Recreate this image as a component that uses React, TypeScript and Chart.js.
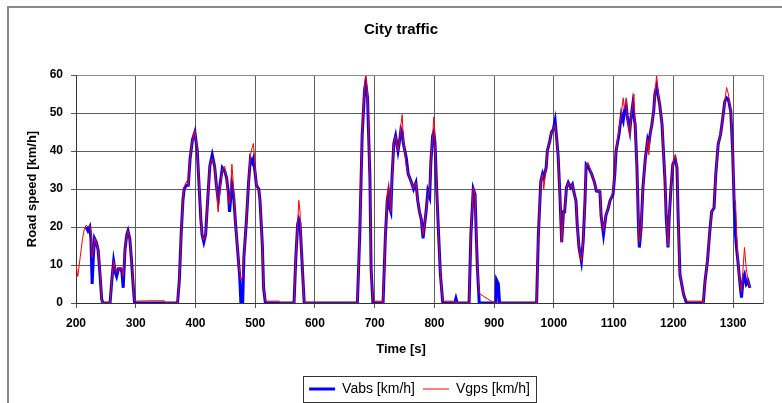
import { useEffect, useRef } from 'react';
import { Chart, registerables } from 'chart.js';

Chart.register(...registerables);

// Time axis [s]
const timeSec = [
  200, 203, 207, 211, 214, 217, 220, 223, 225, 227, 229, 231, 234, 237, 240, 243, 245, 257, 260, 263,
  266, 268, 271, 275, 277, 279, 282, 285, 287, 290, 293, 296, 298, 330, 348, 350, 370, 373, 376, 379,
  381, 385, 388, 391, 395, 399, 403, 406, 409, 411, 414, 417, 420, 424, 428, 432, 435, 438, 441, 445,
  449, 452, 455, 457, 461, 464, 467, 471, 474, 476, 479, 481, 485, 489, 492, 495, 497, 500, 502, 506,
  508, 512, 514, 517, 540, 542, 565, 568, 571, 573, 575, 577, 580, 582, 671, 675, 679, 683, 685, 688,
  692, 694, 697, 711, 714, 718, 721, 723, 725, 727, 729, 732, 735, 739, 742, 744, 746, 748, 753, 756,
  761, 765, 769, 772, 775, 778, 781, 783, 786, 789, 792, 794, 797, 799, 801, 804, 807, 810, 814, 830,
  834, 836, 838, 858, 861, 865, 868, 870, 872, 875, 895, 903, 904, 907, 909, 971, 974, 978, 981, 983,
  987, 989, 993, 996, 999, 1002, 1004, 1007, 1010, 1013, 1016, 1018, 1021, 1024, 1028, 1031, 1033, 1037, 1039, 1042,
  1046, 1049, 1052, 1054, 1057, 1063, 1068, 1071, 1077, 1079, 1083, 1087, 1091, 1094, 1099, 1102, 1104, 1109, 1113, 1116,
  1118, 1121, 1123, 1127, 1129, 1132, 1134, 1136, 1139, 1142, 1143, 1146, 1149, 1153, 1157, 1159, 1161, 1164, 1167, 1169,
  1172, 1174, 1177, 1181, 1183, 1186, 1188, 1191, 1193, 1196, 1199, 1203, 1206, 1208, 1211, 1217, 1222, 1248, 1250, 1253,
  1257, 1261, 1264, 1268, 1271, 1275, 1279, 1282, 1286, 1289, 1292, 1296, 1299, 1302, 1304, 1306, 1308, 1311, 1314, 1317,
  1319, 1322, 1325, 1328,
];

// Vabs [km/h]
const vAbs = [
  null, null, null, null, null, 20, 19, 20, 17, 5, 12, 17, 16, 14, 8, 1, 0, 0, 6, 11,
  8, 7, 9, 9, 8, 4, 14, 18, 19, 17, 11, 4, 0, 0, 0, 0, 0, 6, 18, 27,
  30, 31, 31, 38, 43, 45, 40, 31, 22, 18, 16, 18, 26, 36, 39, 36, 31, 27, 31, 35.6,
  34.7, 33, 29, 24, 31, 28, 21, 13, 7, 0, 0, 12, 21, 32, 38, 37, 38, 34, 31, 30,
  27, 15, 4, 0, 0, 0, 0, 12, 20.7, 22, 21, 15, 6, 0, 0, 18, 44, 56, 58, 54,
  33, 9, 0, 0, 0, 18, 27, 29, 25, 24, 33, 42, 44, 40, 43, 45.7, 45, 42, 38, 34,
  32, 30, 31.7, 27, 24, 22, 17, 20, 24, 29.5, 28, 37, 44, 45, 42, 29, 18, 7.5, 0, 0,
  0, 1.2, 0, 0, 18, 30, 28.6, 18, 9, 0, 0, 0, 6, 5, 0, 0, 18, 32, 34, 33,
  35.6, 40, 42.6, 45, 45.7, 48, 44.4, 39, 28.6, 16, 24, 24, 30.4, 31.7, 30.4, 31.2, 29.5, 26.8, 20.7, 14.6,
  11, 16.3, 26.8, 36.5, 36, 34, 31.7, 29.5, 29.3, 23, 18, 23, 25, 27, 28.6, 34, 40, 44.4, 49.6, 48,
  50.5, 52, 48.8, 45.3, 48.8, 52.3, 49, 47, 35.6, 18, 14.6, 19.8, 30.4, 38, 43, 42, 44.4, 47, 50.5, 55,
  57, 55, 52.3, 47, 40.9, 32, 22.5, 14.6, 22.5, 30.4, 36.5, 38, 35.6, 22.5, 7.5, 2.3, 0, 0, 0, 5.8,
  11, 19, 24, 25, 34, 41.8, 44.4, 47.9, 53, 54, 53.6, 50.5, 40.9, 25, 18, 14, 11, 5.8, 1.4, 6.7,
  7.5, 5, 5.8, 4,
];

// Vgps [km/h]
const vGps = [
  10, 7, 12, 17, 19.5, 20.5, 20, 20.5, 19, 12, 14, 17, 16, 14, 9, 1, 0, 0, 6, 11,
  9, 8, 9, 9, 9, 7, 14, 18, 19, 17, 11, 4, 0.5, 0.6, 0.6, 0, 0, 6, 18, 27,
  30.5, 32, 31, 38, 43, 45.5, 40, 32, 22, 18, 16.5, 18, 26, 36, 38, 36.5, 31, 24, 30, 35,
  36, 33, 27, 26, 36.5, 30, 21, 13, 8, 6, 7, 12, 21, 32, 39, 41, 42, 35, 31, 30,
  27, 15, 4, 0.5, 0.5, 0, 0, 12, 21, 27, 24, 15, 6, 0, 0, 18, 44, 57.5, 60, 55,
  33, 9, 0.5, 0.5, 0, 18, 28, 31, 27, 24, 33, 42, 44, 40, 43, 47, 49.6, 43, 36, 34,
  32, 30, 31.7, 27, 24, 22, 18, 20, 24, 28, 30, 37, 44, 49, 42, 29, 18, 7.5, 0.5, 0.5,
  0, 0.5, 0, 0, 18, 30.4, 28.6, 18, 9, 2.5, 0.5, 0, 0, 0, 0, 0, 18, 32, 34, 30,
  35.6, 40, 42.6, 45, 45.7, 47, 44.4, 39, 28.6, 16, 24, 24, 30.4, 31.7, 30.4, 31.2, 29.5, 26.8, 20.7, 14.6,
  11, 16.3, 26.8, 36.5, 37, 34, 31.7, 29.5, 29.3, 23, 19, 23, 25, 27, 29.5, 34, 40, 46, 50, 54,
  51, 54, 48.8, 44, 48.8, 52.3, 55, 47, 35.6, 18, 16, 19.8, 30.4, 38, 43, 39, 44.4, 47, 50.5, 55,
  60, 56, 52.3, 47, 40.9, 32, 22.5, 15, 22.5, 30.4, 36.5, 39, 35.6, 22.5, 7.5, 2.3, 0.5, 0.5, 0, 5.8,
  11, 19, 24, 25, 34, 41.8, 44.4, 47.9, 53, 56.7, 55, 50.5, 40.9, 27, 27, 18, 11, 5.8, 3, 10,
  14.6, 9, 6, 4,
];

const seriesNames = ['Vabs [km/h]', 'Vgps [km/h]'];
const chartTitle = 'City traffic';
const xAxisTitle = 'Time [s]';
const yAxisTitle = 'Road speed [km/h]';
const xMin = 200;
const xMax = 1350;
const xStep = 100;
const yMin = 0;
const yMax = 60;
const yStep = 10;

const FONT = "'Liberation Sans', Arial, sans-serif";

const decorPlugin = {
  id: 'decor',
  beforeDraw(chart: any) {
    const { ctx, width, height } = chart;
    ctx.save();
    ctx.fillStyle = '#ffffff';
    ctx.fillRect(0, 0, width, height);
    ctx.restore();
  },
  afterDraw(chart: any) {
    const { ctx, chartArea, width, height } = chart;
    ctx.save();
    // outer frame (left and top visible)
    ctx.strokeStyle = '#8a8a8a';
    ctx.lineWidth = 2;
    ctx.beginPath();
    ctx.moveTo(8, height + 5);
    ctx.lineTo(8, 7);
    ctx.lineTo(width + 5, 7);
    ctx.stroke();
    // plot area border (top/right)
    ctx.strokeStyle = '#8c8c8c';
    ctx.lineWidth = 1;
    ctx.beginPath();
    ctx.moveTo(Math.round(chartArea.left) + 0.5, Math.round(chartArea.top) + 0.5);
    ctx.lineTo(Math.round(chartArea.right) + 0.5, Math.round(chartArea.top) + 0.5);
    ctx.lineTo(Math.round(chartArea.right) + 0.5, Math.round(chartArea.bottom) + 0.5);
    ctx.stroke();
    // chart title
    ctx.fillStyle = '#000';
    ctx.textAlign = 'center';
    ctx.textBaseline = 'middle';
    ctx.font = `bold 15px ${FONT}`;
    ctx.fillText(chartTitle, 401, 30);
    // x axis title
    ctx.font = `bold 13px ${FONT}`;
    ctx.fillText(xAxisTitle, 401, 349);
    // legend frame
    const lg = chart.legend;
    if (lg && lg.legendHitBoxes && lg.legendHitBoxes.length) {
      const boxes = lg.legendHitBoxes;
      let l = Infinity, r = -Infinity, t = Infinity, b = -Infinity;
      boxes.forEach((h: any) => {
        l = Math.min(l, h.left);
        r = Math.max(r, h.left + h.width);
        t = Math.min(t, h.top);
        b = Math.max(b, h.top + h.height);
      });
      ctx.strokeStyle = '#333';
      ctx.lineWidth = 1;
      ctx.strokeRect(Math.round(l - 6) + 0.5, Math.round(t - 6) + 0.5, Math.round(r - l + 12), Math.round(b - t + 12));
    }
    ctx.restore();
  },
};

export default function App() {
  const ref = useRef<HTMLCanvasElement | null>(null);

  useEffect(() => {
    document.body.style.margin = '0';
    const canvas = ref.current;
    if (!canvas) return;
    const chart = new Chart(canvas, {
      type: 'line',
      data: {
        datasets: [
          {
            label: seriesNames[0],
            data: timeSec.map((t, i) => ({ x: t, y: vAbs[i] })) as any,
            borderColor: '#0000ff',
            backgroundColor: '#0000ff',
            borderWidth: 3,
            pointRadius: 0,
            tension: 0,
            order: 1,
          },
          {
            label: seriesNames[1],
            data: timeSec.map((t, i) => ({ x: t, y: vGps[i] })) as any,
            borderColor: '#ff0000',
            backgroundColor: '#ff0000',
            borderWidth: 1,
            pointRadius: 0,
            tension: 0,
            order: 0,
          },
        ],
      },
      options: {
        responsive: false,
        animation: false,
        events: [],
        layout: { padding: { left: 20, right: 19, top: 75, bottom: -3 } },
        plugins: {
          title: { display: false },
          legend: {
            display: true,
            position: 'bottom',
            fullSize: false,
            labels: {
              usePointStyle: true,
              pointStyle: 'line',
              pointStyleWidth: 26,
              color: '#000',
              font: { family: FONT, size: 14 },
              padding: 8,
              sort: (a: any, b: any) => a.datasetIndex - b.datasetIndex,
            },
          },
          tooltip: { enabled: false },
        },
        scales: {
          x: {
            type: 'linear',
            min: xMin,
            max: xMax,
            ticks: {
              stepSize: xStep,
              includeBounds: false,
              color: '#000',
              font: { family: FONT, size: 12, weight: 'bold' },
              padding: 8,
              maxRotation: 0,
              callback: (v: any) => String(v),
            },
            grid: { color: '#5e5e5e', lineWidth: 1, tickLength: 5, tickColor: '#555' },
            border: { color: '#333', width: 1 },
            afterFit: (s: any) => { s.height = 71; },
          },
          y: {
            type: 'linear',
            min: yMin,
            max: yMax,
            ticks: {
              stepSize: yStep,
              color: '#000',
              font: { family: FONT, size: 12, weight: 'bold' },
              padding: 8,
              callback: (v: any) => String(v),
            },
            grid: { color: '#5e5e5e', lineWidth: 1, tickLength: 5, tickColor: '#555' },
            border: { color: '#333', width: 1 },
            title: {
              display: true,
              text: yAxisTitle,
              color: '#000',
              font: { family: FONT, size: 13, weight: 'bold' },
              padding: { top: 5, bottom: 0 },
            },
            afterFit: (s: any) => { s.width = 56; },
          },
        },
      },
      plugins: [decorPlugin],
    });
    return () => chart.destroy();
  }, []);

  return (
    <div style={{ width: 782, height: 403, position: 'relative' }}>
      <canvas ref={ref} width={782} height={403} style={{ display: 'block' }} />
    </div>
  );
}
